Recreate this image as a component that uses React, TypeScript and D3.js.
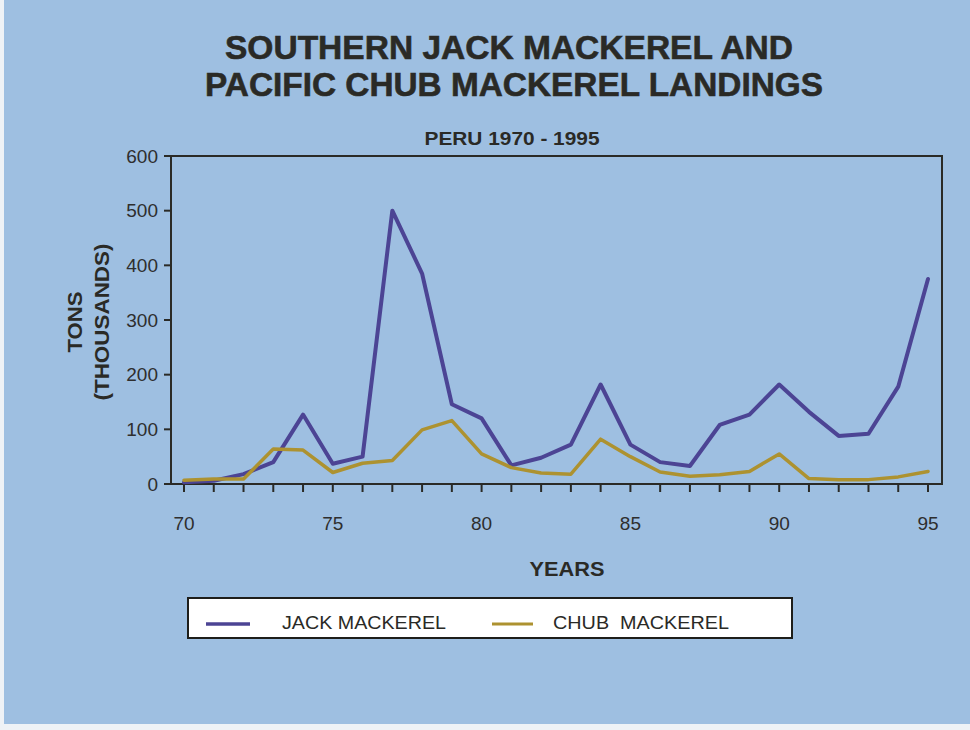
import React from "react";
import * as d3 from "d3";

// Landings, thousands of tons, Peru 1970-1995
const years = [70, 71, 72, 73, 74, 75, 76, 77, 78, 79, 80, 81, 82, 83, 84, 85, 86, 87, 88, 89, 90, 91, 92, 93, 94, 95];
const jackMackerel = [3, 6, 18, 40, 127, 37, 50, 500, 385, 146, 120, 34, 48, 72, 182, 72, 40, 33, 108, 127, 182, 132, 88, 92, 178, 375];
const chubMackerel = [7, 9, 9, 64, 62, 21, 38, 43, 99, 116, 55, 30, 20, 18, 82, 50, 22, 14, 17, 23, 55, 10, 8, 8, 13, 23];

const yTicks = [0, 100, 200, 300, 400, 500, 600];
const xTickLabels = [70, 75, 80, 85, 90, 95];

const seriesList = [
  { name: "JACK MACKEREL", values: jackMackerel, color: "#4c4494", width: 4 },
  { name: "CHUB  MACKEREL", values: chubMackerel, color: "#ad9230", width: 3.5 },
];

const W = 970;
const H = 730;
const frame = { left: 171, right: 942, top: 156, bottom: 484 };

export default function App() {
  const x = d3.scaleLinear().domain([70, 95]).range([184, 928]);
  const y = d3.scaleLinear().domain([0, 600]).range([frame.bottom, frame.top]);

  const line = d3
    .line<number>()
    .x((_, i) => x(years[i]))
    .y((v) => y(v));

  const font = "'Liberation Sans', Arial, sans-serif";
  const ink = "#2a2a26";

  return (
    <svg
      width={W}
      height={H}
      style={{ position: "absolute", left: 0, top: 0, display: "block" }}
      fontFamily={font}
    >
      <rect x={0} y={0} width={W} height={H} fill="#eef2f6" />
      <rect x={4} y={0} width={W - 4} height={H - 6} fill="#9ebfe1" />

      {/* titles */}
      <text x={509} y={59} textAnchor="middle" fontSize={34} fontWeight="bold" fill={ink}
        stroke={ink} strokeWidth={0.6} textLength={568} lengthAdjust="spacingAndGlyphs">
        SOUTHERN JACK MACKEREL AND
      </text>
      <text x={514} y={96} textAnchor="middle" fontSize={34} fontWeight="bold" fill={ink}
        stroke={ink} strokeWidth={0.6} textLength={618} lengthAdjust="spacingAndGlyphs">
        PACIFIC CHUB MACKEREL LANDINGS
      </text>
      <text x={512} y={145} textAnchor="middle" fontSize={18} fontWeight="bold" fill={ink}
        textLength={175} lengthAdjust="spacingAndGlyphs">
        PERU 1970 - 1995
      </text>

      {/* plot frame */}
      <rect
        x={frame.left}
        y={frame.top}
        width={frame.right - frame.left}
        height={frame.bottom - frame.top}
        fill="none"
        stroke="#2a2a26"
        strokeWidth={2}
      />

      {/* y axis ticks and labels */}
      {yTicks.map((t) => (
        <g key={t}>
          <line x1={frame.left - 7} x2={frame.left} y1={y(t)} y2={y(t)} stroke={ink} strokeWidth={2} />
          <text x={158} y={y(t)} dy="0.35em" textAnchor="end" fontSize={19} fill="#2e2e2e">
            {t}
          </text>
        </g>
      ))}

      {/* x axis ticks and labels */}
      {years.map((yr) => (
        <line key={yr} x1={x(yr)} x2={x(yr)} y1={frame.bottom} y2={frame.bottom + 8} stroke={ink} strokeWidth={2} />
      ))}
      {xTickLabels.map((yr) => (
        <text key={yr} x={x(yr)} y={530} textAnchor="middle" fontSize={19} fill="#2e2e2e">
          {yr}
        </text>
      ))}

      {/* axis titles */}
      <text transform="translate(82,322) rotate(-90)" textAnchor="middle" fontSize={21} fontWeight="bold"
        fill={ink} textLength={61} lengthAdjust="spacingAndGlyphs">
        TONS
      </text>
      <text transform="translate(109,322) rotate(-90)" textAnchor="middle" fontSize={21} fontWeight="bold"
        fill={ink} textLength={157} lengthAdjust="spacingAndGlyphs">
        (THOUSANDS)
      </text>
      <text x={567} y={576} textAnchor="middle" fontSize={20} fontWeight="bold" fill={ink}
        textLength={75} lengthAdjust="spacingAndGlyphs">
        YEARS
      </text>

      {/* series */}
      {seriesList.map((s) => (
        <path
          key={s.name}
          d={line(s.values) ?? ""}
          fill="none"
          stroke={s.color}
          strokeWidth={s.width}
          strokeLinejoin="round"
          strokeLinecap="round"
        />
      ))}

      {/* legend */}
      <rect x={188} y={598} width={604} height={40} fill="#ffffff" stroke="#1e1e1a" strokeWidth={2} />
      <line x1={206} x2={250} y1={624} y2={624} stroke={seriesList[0].color} strokeWidth={3.5} />
      <text x={282} y={629} fontSize={19} fill={ink} textLength={164} lengthAdjust="spacingAndGlyphs">
        {seriesList[0].name}
      </text>
      <line x1={492} x2={533} y1={624} y2={624} stroke={seriesList[1].color} strokeWidth={3} />
      <text x={553} y={629} fontSize={19} fill={ink} textLength={176} lengthAdjust="spacingAndGlyphs"
        style={{ whiteSpace: "pre" }}>
        {seriesList[1].name}
      </text>
    </svg>
  );
}
